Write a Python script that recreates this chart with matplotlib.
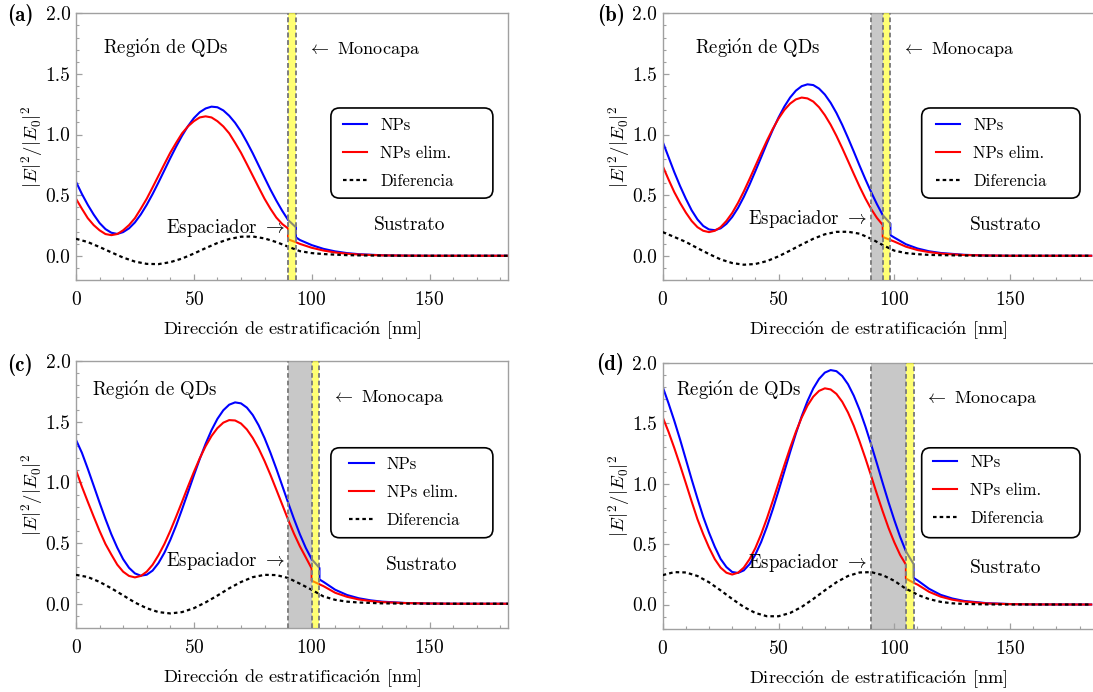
import matplotlib
matplotlib.use("Agg")
import matplotlib.pyplot as plt
from matplotlib.ticker import MultipleLocator, FormatStrFormatter
from matplotlib.patches import FancyBboxPatch

plt.rcParams['font.family'] = ['cmr10', 'DejaVu Serif']
plt.rcParams['mathtext.fontset'] = 'cm'
plt.rcParams['axes.formatter.use_mathtext'] = True

# sample positions [nm], every 2.5 nm
x_to90 = [i * 2.5 for i in range(37)]
x_to95 = [i * 2.5 for i in range(39)]
x_to100 = [i * 2.5 for i in range(41)]
x_to105 = [i * 2.5 for i in range(43)]
x5_to90 = [i * 5 for i in range(19)]
x5_to95 = x5_to90 + [95]
x5_to100 = x5_to95 + [100]
x5_to105 = x5_to100 + [105]

# spacer start, spacer end (= monolayer start), monolayer end
layers_a = [90, 90, 93.3]
layers_b = [90, 95, 98.3]
layers_c = [90, 100, 103.3]
layers_d = [90, 105, 108.3]

# (a) spacer 0 nm
blue_a_x = x_to90 + [93.3, 93.3, 95, 100, 105, 110, 115, 120, 130, 140, 150, 185]
blue_a_y = [0.61, 0.51, 0.42, 0.34, 0.27, 0.22, 0.19, 0.18, 0.195, 0.226, 0.275, 0.341,
            0.42, 0.509, 0.605, 0.705, 0.805, 0.901, 0.99, 1.069, 1.135, 1.184, 1.215,
            1.23, 1.225, 1.199, 1.155, 1.097, 1.025, 0.938, 0.845, 0.745, 0.645, 0.546,
            0.455, 0.371, 0.295,
            0.235, 0.152, 0.13, 0.088, 0.057, 0.036, 0.022, 0.013, 0.004, 0.001, 0.0, 0.0]
red_a_x = x_to90 + [90, 93.3, 95, 100, 105, 110, 115, 120, 130, 140, 150, 185]
red_a_y = [0.47, 0.388, 0.31, 0.253, 0.21, 0.179, 0.17, 0.179, 0.21, 0.253, 0.31, 0.388,
           0.47, 0.564, 0.66, 0.756, 0.85, 0.932, 1.01, 1.067, 1.11, 1.141, 1.15, 1.141,
           1.11, 1.067, 1.01, 0.932, 0.85, 0.756, 0.66, 0.564, 0.47, 0.388, 0.315,
           0.262, 0.225,
           0.135, 0.112, 0.098, 0.066, 0.043, 0.027, 0.017, 0.01, 0.003, 0.001, 0.0, 0.0]
diff_a_x = x5_to90 + [95, 100, 105, 110, 115, 120, 130, 140, 150, 185]
diff_a_y = [0.14, 0.113, 0.072, 0.028, -0.015, -0.048, -0.067, -0.069, -0.053, -0.023,
            0.018, 0.063, 0.105, 0.138, 0.157, 0.159, 0.143, 0.113, 0.075,
            0.038, 0.022, 0.014, 0.009, 0.005, 0.003, 0.001, 0.0, 0.0, 0.0]

# (b) spacer 5 nm
blue_b_x = x_to95 + [98.3, 98.3, 100, 105, 110, 115, 120, 130, 140, 150, 185]
blue_b_y = [0.94, 0.815, 0.69, 0.575, 0.47, 0.375, 0.30, 0.246, 0.217, 0.211, 0.226,
            0.263, 0.32, 0.394, 0.485, 0.587, 0.698, 0.812, 0.928, 1.038, 1.14, 1.23,
            1.305, 1.362, 1.399, 1.414, 1.408, 1.379, 1.33, 1.262, 1.178, 1.08, 0.972,
            0.859, 0.743, 0.631, 0.525, 0.425, 0.335,
            0.265, 0.17, 0.15, 0.095, 0.06, 0.037, 0.023, 0.008, 0.002, 0.0, 0.0]
red_b_x = x_to95 + [95, 98.3, 100, 105, 110, 115, 120, 130, 140, 150, 185]
red_b_y = [0.74, 0.63, 0.525, 0.436, 0.356, 0.287, 0.236, 0.206, 0.195, 0.206, 0.236,
           0.287, 0.353, 0.436, 0.53, 0.633, 0.74, 0.847, 0.95, 1.046, 1.131, 1.202,
           1.255, 1.29, 1.305, 1.298, 1.272, 1.225, 1.16, 1.081, 0.989, 0.888, 0.782,
           0.675, 0.57, 0.473, 0.386, 0.312, 0.254,
           0.155, 0.13, 0.117, 0.075, 0.047, 0.03, 0.018, 0.006, 0.002, 0.0, 0.0]
diff_b_x = x5_to95 + [100, 105, 110, 115, 120, 130, 140, 150, 185]
diff_b_y = [0.195, 0.155, 0.114, 0.063, 0.014, -0.03, -0.06, -0.074, -0.068, -0.044,
            -0.005, 0.043, 0.093, 0.14, 0.177, 0.197, 0.198, 0.182, 0.14, 0.088,
            0.042, 0.022, 0.013, 0.007, 0.005, 0.002, 0.0, 0.0, 0.0]

# (c) spacer 10 nm
blue_c_x = x_to100 + [103.3, 103.3, 105, 110, 115, 120, 125, 130, 140, 150, 160, 185]
blue_c_y = [1.35, 1.244, 1.112, 0.973, 0.833, 0.698, 0.572, 0.462, 0.367, 0.296, 0.25,
            0.231, 0.239, 0.273, 0.335, 0.42, 0.525, 0.645, 0.778, 0.917, 1.057, 1.192,
            1.318, 1.43, 1.523, 1.594, 1.64, 1.659, 1.651, 1.616, 1.555, 1.47, 1.365,
            1.244, 1.112, 0.973, 0.833, 0.698, 0.572, 0.46, 0.367,
            0.295, 0.2, 0.18, 0.115, 0.072, 0.045, 0.028, 0.017, 0.006, 0.002, 0.0, 0.0]
red_c_x = x_to100 + [100, 103.3, 105, 110, 115, 120, 125, 130, 140, 150, 160, 185]
red_c_y = [1.10, 0.965, 0.84, 0.718, 0.60, 0.492, 0.405, 0.322, 0.264, 0.229, 0.217,
           0.229, 0.264, 0.321, 0.40, 0.492, 0.60, 0.718, 0.84, 0.965, 1.085, 1.198,
           1.298, 1.382, 1.447, 1.492, 1.513, 1.51, 1.485, 1.436, 1.366, 1.279, 1.176,
           1.062, 0.94, 0.817, 0.693, 0.577, 0.473, 0.382, 0.29,
           0.19, 0.16, 0.145, 0.09, 0.057, 0.035, 0.022, 0.013, 0.005, 0.002, 0.0, 0.0]
diff_c_x = x5_to100 + [105, 110, 115, 120, 130, 140, 150, 185]
diff_c_y = [0.238, 0.22, 0.18, 0.127, 0.069, 0.01, -0.037, -0.069, -0.08, -0.069, -0.037,
            0.011, 0.067, 0.127, 0.179, 0.219, 0.238, 0.236, 0.212, 0.165, 0.115,
            0.06, 0.032, 0.017, 0.01, 0.003, 0.001, 0.0, 0.0]

# (d) spacer 15 nm
blue_d_x = x_to105 + [108.3, 108.3, 110, 115, 120, 125, 130, 140, 150, 160, 185]
blue_d_y = [1.80, 1.665, 1.52, 1.365, 1.20, 1.035, 0.877, 0.725, 0.594, 0.477, 0.377,
            0.31, 0.269, 0.261, 0.282, 0.334, 0.413, 0.517, 0.644, 0.786, 0.94, 1.10,
            1.26, 1.414, 1.557, 1.682, 1.787, 1.866, 1.918, 1.939, 1.93, 1.89, 1.822,
            1.727, 1.61, 1.473, 1.323, 1.165, 1.003, 0.846, 0.698, 0.56, 0.44,
            0.335, 0.22, 0.20, 0.13, 0.08, 0.05, 0.03, 0.011, 0.004, 0.001, 0.0]
red_d_x = x_to105 + [105, 108.3, 110, 115, 120, 125, 130, 140, 150, 160, 185]
red_d_y = [1.549, 1.429, 1.295, 1.152, 1.003, 0.852, 0.706, 0.582, 0.471, 0.375, 0.305,
           0.263, 0.248, 0.263, 0.305, 0.375, 0.467, 0.582, 0.713, 0.856, 1.003, 1.152,
           1.295, 1.429, 1.546, 1.645, 1.719, 1.767, 1.788, 1.779, 1.742, 1.677, 1.588,
           1.478, 1.349, 1.21, 1.063, 0.913, 0.769, 0.633, 0.514, 0.41, 0.33,
           0.215, 0.18, 0.165, 0.105, 0.065, 0.04, 0.025, 0.009, 0.003, 0.001, 0.0]
diff_d_x = x5_to105 + [108.3, 110, 115, 120, 125, 130, 140, 150, 185]
diff_d_y = [0.243, 0.268, 0.265, 0.236, 0.184, 0.117, 0.046, -0.02, -0.07, -0.097, -0.097,
            -0.07, -0.02, 0.046, 0.117, 0.184, 0.236, 0.265, 0.268, 0.243, 0.196, 0.13,
            0.1, 0.08, 0.045, 0.022, 0.01, 0.005, 0.001, 0.0, 0.0]

legend_labels = ['NPs', 'NPs elim.', 'Diferencia']

# cmr10 has no precomposed accented o, so build it with a math accent
o_acute = r'$\acute{\mathrm{o}}$'
xlabel_text = 'Direcci' + o_acute + 'n de estratificaci' + o_acute + 'n [nm]'
qd_text = 'Regi' + o_acute + 'n de QDs'

W, H = 1093, 692

panels = [
    dict(letter='(a)', rect=(76, 13.3, 432, 266.7), xmax=183.3, layers=layers_a,
         blue=(blue_a_x, blue_a_y), red=(red_a_x, red_a_y), diff=(diff_a_x, diff_a_y),
         qd=(11.5, 1.71), mono=(98.0, 1.70), esp=(88.7, 0.23), sus=(126.4, 0.25),
         box=(0.590, 0.307, 0.965, 0.645), leg=(0.618, 0.609), lab=(7, 15)),
    dict(letter='(b)', rect=(662.7, 13.3, 432, 266.7), xmax=186.5, layers=layers_b,
         blue=(blue_b_x, blue_b_y), red=(red_b_x, red_b_y), diff=(diff_b_x, diff_b_y),
         qd=(14.0, 1.71), mono=(102.9, 1.70), esp=(88.2, 0.30), sus=(132.4, 0.25),
         box=(0.5995, 0.307, 0.966, 0.645), leg=(0.6326, 0.609), lab=(597, 15)),
    dict(letter='(c)', rect=(76, 361, 432, 267), xmax=183.3, layers=layers_c,
         blue=(blue_c_x, blue_c_y), red=(red_c_x, red_c_y), diff=(diff_c_x, diff_c_y),
         qd=(6.8, 1.76), mono=(108.4, 1.70), esp=(88.7, 0.35), sus=(131.4, 0.32),
         box=(0.590, 0.338, 0.965, 0.675), leg=(0.633, 0.642), lab=(7, 365)),
    dict(letter='(d)', rect=(662.7, 362.7, 432, 266), xmax=186.5, layers=layers_d,
         blue=(blue_d_x, blue_d_y), red=(red_d_x, red_d_y), diff=(diff_d_x, diff_d_y),
         qd=(5.7, 1.77), mono=(112.6, 1.70), esp=(88.2, 0.34), sus=(132.4, 0.30),
         box=(0.5995, 0.342, 0.966, 0.680), leg=(0.6248, 0.654), lab=(596, 364)),
]

fig = plt.figure(figsize=(W / 100, H / 100), dpi=100)

spine_col = '#a0a0a0'
fs = 13.5

for p in panels:
    l, t, w, h = p['rect']
    ax = fig.add_axes([l / W, 1 - (t + h) / H, w / W, h / H])

    s0, s1, m1 = p['layers']
    ax.axvspan(s0, s1, color='#c8c8c8', lw=0, zorder=0.5)
    ax.axvspan(s1, m1, color=(1, 1, 0), alpha=0.55, lw=0, zorder=3)
    for xv in (s0, s1, m1):
        ax.axvline(xv, color='#808080', lw=1.4, ls=(0, (2.4, 1.5)), zorder=4)

    ax.plot(*p['blue'], color='blue', lw=1.5, zorder=2, label=legend_labels[0])
    ax.plot(*p['red'], color='red', lw=1.5, zorder=2.1, label=legend_labels[1])
    ax.plot(*p['diff'], color='black', lw=1.6, ls=(0, (1.6, 1.4)), zorder=3.5,
            label=legend_labels[2])

    ax.set_xlim(0, p['xmax'])
    ax.set_ylim(-0.2, 2.0)
    ax.xaxis.set_major_locator(MultipleLocator(50))
    ax.xaxis.set_minor_locator(MultipleLocator(10))
    ax.yaxis.set_major_locator(MultipleLocator(0.5))
    ax.yaxis.set_minor_locator(MultipleLocator(0.1))
    ax.yaxis.set_major_formatter(FormatStrFormatter('%.1f'))
    ax.tick_params(which='both', direction='in', color=spine_col, top=False, right=False,
                   labelsize=14)
    ax.tick_params(which='major', length=4.5, width=0.9)
    ax.tick_params(which='minor', length=2.5, width=0.8)
    ax.tick_params(axis='x', pad=8)
    ax.tick_params(axis='y', pad=4)
    for sp in ax.spines.values():
        sp.set_color(spine_col)
        sp.set_linewidth(1.0)

    ax.set_xlabel(xlabel_text, fontsize=13.2)
    ax.set_ylabel(r'$|E|^2/|E_0|^2$', fontsize=fs)
    ax.xaxis.set_label_coords(0.5, -0.15)
    ax.yaxis.set_label_coords(-31 / w, 0.5)

    ax.text(*p['qd'], qd_text, fontsize=fs, va='center', ha='left')
    ax.text(*p['mono'], r'$\leftarrow$ Monocapa', fontsize=13, va='center', ha='left')
    ax.text(*p['esp'], r'Espaciador $\rightarrow$', fontsize=fs, va='center', ha='right')
    ax.text(*p['sus'], 'Sustrato', fontsize=14, va='center', ha='left')

    # rounded legend frame drawn on its own, legend entries placed inside
    x0, y0, x1, y1 = p['box']
    frame = FancyBboxPatch((x0, y0), x1 - x0, y1 - y0, transform=ax.transAxes,
                           boxstyle='round,pad=0,rounding_size=0.02',
                           mutation_aspect=w / h, facecolor='white', edgecolor='black',
                           lw=1.2, zorder=9)
    ax.add_patch(frame)
    leg = ax.legend(loc='upper left', bbox_to_anchor=p['leg'], fontsize=12,
                    borderaxespad=0, frameon=False, handlelength=1.45, handletextpad=0.8,
                    labelspacing=0.76, borderpad=0)
    leg.set_zorder(10)

    fig.text(p['lab'][0] / W, 1 - p['lab'][1] / H, p['letter'], fontsize=15,
             fontfamily=['cmb10', 'DejaVu Serif'], fontweight='bold', ha='left', va='center')

fig.savefig('out.png', dpi=100)
